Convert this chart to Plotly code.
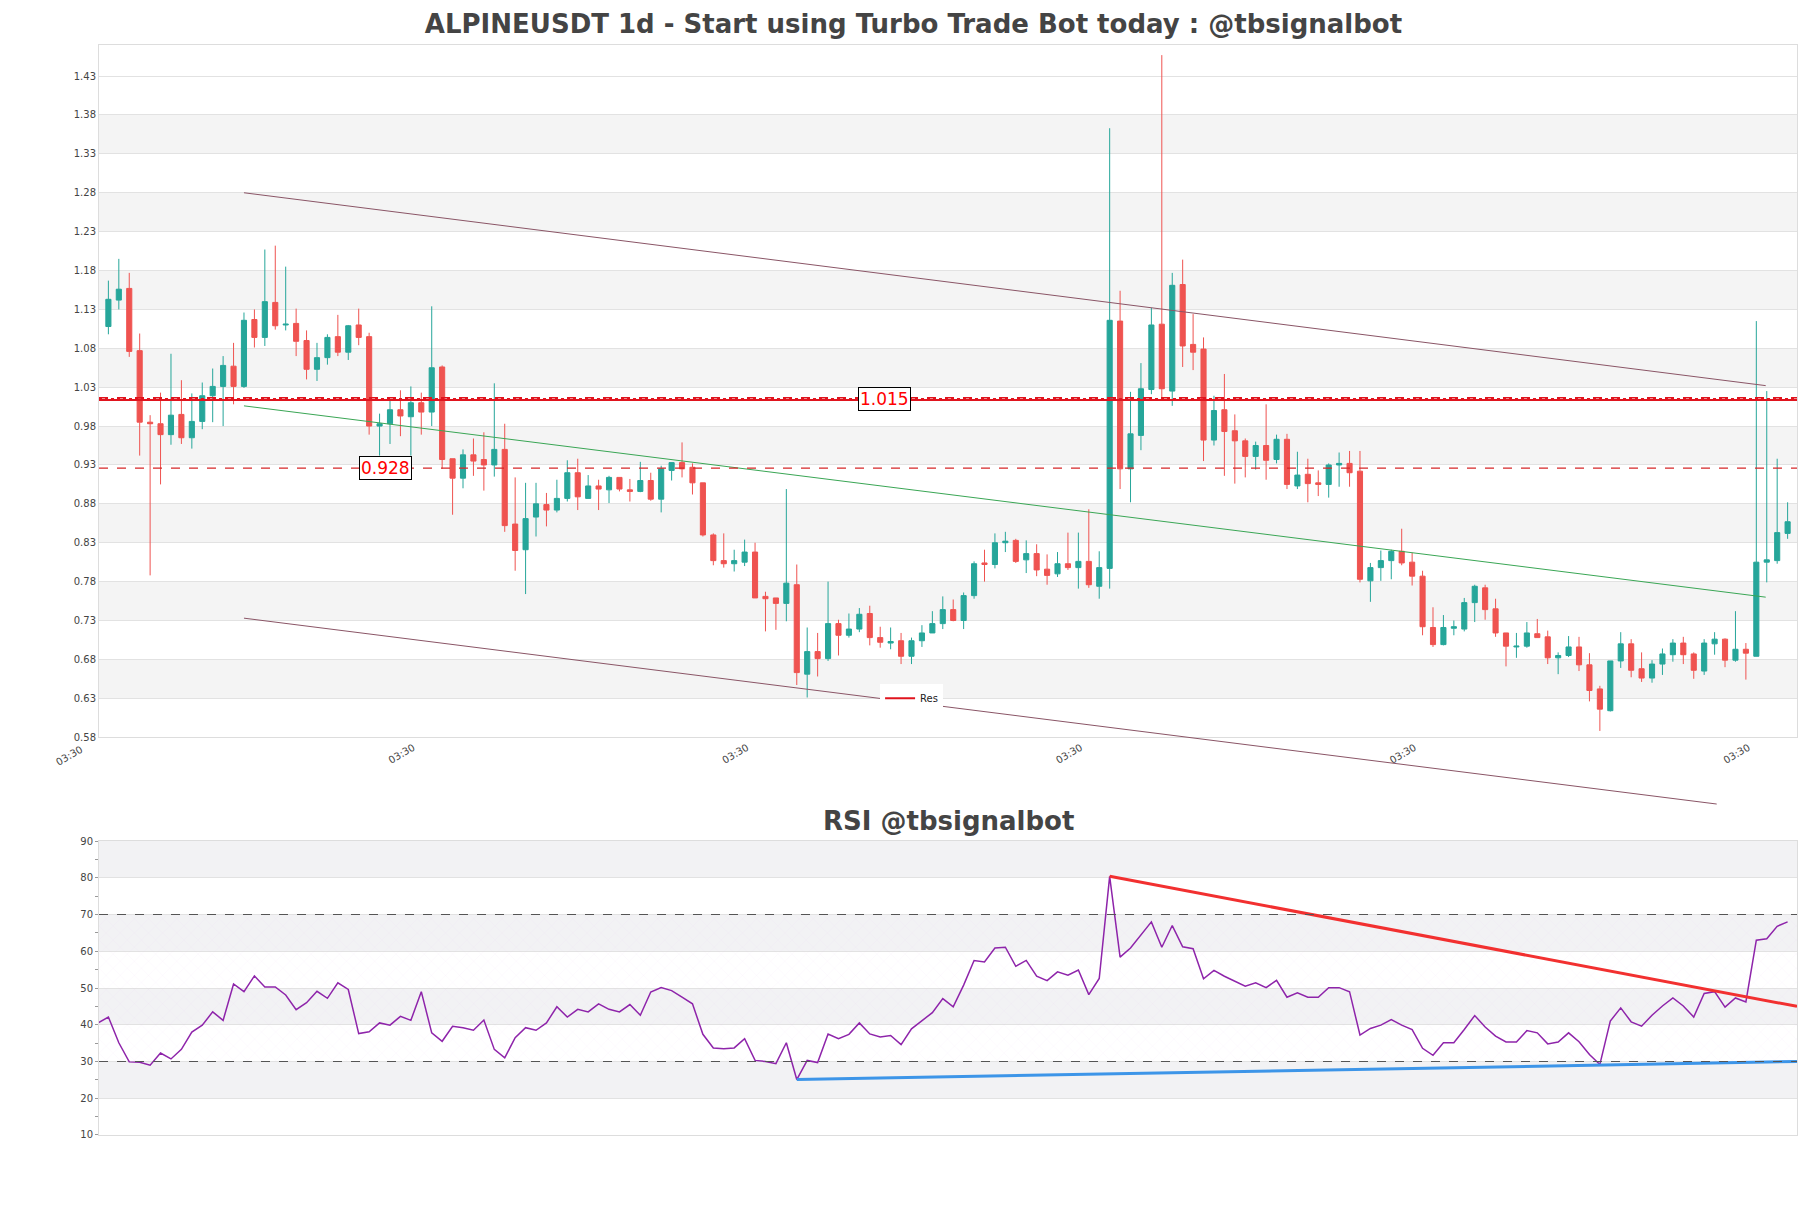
import plotly.graph_objects as go
from plotly.subplots import make_subplots

opens = [1.108,1.142,1.157,1.077,0.985,0.983,0.969,0.995,0.965,0.986,1.019,1.031,1.057,1.031,1.117,1.094,1.139,1.110,1.112,1.090,
1.053,1.068,1.095,1.075,1.110,1.095,0.980,0.983,1.001,0.992,1.010,0.998,1.056,0.938,0.913,0.943,0.937,0.930,0.950,0.854,
0.821,0.863,0.879,0.872,0.887,0.920,0.887,0.903,0.898,0.914,0.898,0.896,0.910,0.886,0.923,0.933,0.927,0.907,0.840,0.807,
0.803,0.805,0.818,0.761,0.759,0.752,0.776,0.661,0.690,0.681,0.726,0.711,0.719,0.739,0.708,0.701,0.704,0.684,0.704,0.714,
0.726,0.744,0.730,0.762,0.804,0.802,0.830,0.833,0.808,0.816,0.796,0.790,0.803,0.798,0.806,0.774,0.797,1.115,0.925,0.968,
1.027,1.111,1.025,1.162,1.085,1.079,0.962,1.001,0.974,0.961,0.941,0.955,0.937,0.963,0.903,0.918,0.907,0.905,0.930,0.932,
0.922,0.781,0.798,0.807,0.819,0.805,0.787,0.721,0.699,0.720,0.719,0.753,0.772,0.745,0.714,0.696,0.697,0.713,0.709,0.682,
0.685,0.696,0.673,0.642,0.614,0.678,0.700,0.668,0.656,0.674,0.686,0.701,0.687,0.665,0.700,0.706,0.679,0.693,0.684,0.805,
0.807,0.842]
highs = [1.167,1.195,1.177,1.099,0.994,1.023,1.073,1.039,1.022,1.036,1.054,1.070,1.087,1.126,1.130,1.207,1.212,1.185,1.131,1.103,
1.087,1.098,1.123,1.110,1.131,1.100,0.996,1.014,1.026,1.031,1.023,1.134,1.058,0.938,0.950,0.964,0.972,1.035,0.983,0.914,
0.907,0.907,0.894,0.911,0.936,0.938,0.917,0.911,0.916,0.914,0.912,0.934,0.920,0.929,0.933,0.959,0.932,0.907,0.842,0.842,
0.821,0.834,0.830,0.767,0.759,0.899,0.802,0.721,0.714,0.780,0.731,0.739,0.746,0.749,0.722,0.721,0.714,0.708,0.724,0.742,
0.761,0.757,0.766,0.806,0.821,0.842,0.844,0.835,0.833,0.828,0.815,0.818,0.843,0.843,0.873,0.819,1.363,1.154,1.024,1.061,
1.132,1.457,1.177,1.194,1.124,1.094,1.019,1.047,0.995,0.964,0.960,1.008,0.969,0.970,0.947,0.938,0.923,0.932,0.946,0.948,
0.948,0.804,0.820,0.821,0.848,0.817,0.794,0.747,0.737,0.730,0.759,0.776,0.776,0.758,0.714,0.714,0.728,0.732,0.717,0.689,
0.710,0.709,0.688,0.646,0.678,0.715,0.706,0.689,0.679,0.694,0.706,0.709,0.689,0.706,0.715,0.707,0.742,0.701,1.115,1.025,
0.938,0.882]
lows = [1.098,1.130,1.069,0.942,0.788,0.905,0.956,0.957,0.951,0.976,0.985,0.980,1.008,1.029,1.081,1.083,1.104,1.103,1.070,1.040,
1.038,1.059,1.070,1.065,1.084,0.969,0.942,0.957,0.967,0.942,0.969,0.980,0.925,0.866,0.900,0.916,0.897,0.915,0.844,0.794,
0.764,0.838,0.851,0.869,0.883,0.872,0.887,0.872,0.881,0.896,0.883,0.895,0.884,0.869,0.910,0.914,0.892,0.838,0.801,0.798,
0.793,0.800,0.759,0.716,0.718,0.729,0.647,0.631,0.658,0.678,0.685,0.708,0.715,0.698,0.695,0.693,0.674,0.674,0.696,0.714,
0.719,0.729,0.719,0.758,0.780,0.797,0.818,0.804,0.791,0.787,0.776,0.786,0.795,0.771,0.772,0.758,0.771,0.899,0.882,0.949,
1.021,1.016,1.006,1.056,1.052,0.935,0.955,0.916,0.906,0.914,0.924,0.911,0.932,0.899,0.899,0.882,0.890,0.888,0.902,0.902,
0.779,0.754,0.781,0.783,0.801,0.775,0.711,0.696,0.698,0.711,0.716,0.728,0.731,0.709,0.671,0.682,0.695,0.708,0.674,0.661,
0.683,0.665,0.626,0.588,0.613,0.669,0.657,0.651,0.650,0.660,0.677,0.674,0.655,0.660,0.686,0.670,0.677,0.654,0.684,0.779,
0.803,0.835]
closes = [1.143,1.156,1.076,0.985,0.983,0.969,0.994,0.965,0.986,1.019,1.031,1.058,1.031,1.116,1.094,1.140,1.109,1.111,1.089,1.053,
1.068,1.094,1.075,1.109,1.094,0.980,0.983,1.001,0.993,1.010,0.998,1.055,0.937,0.913,0.943,0.935,0.930,0.950,0.852,0.820,
0.861,0.880,0.872,0.887,0.920,0.889,0.903,0.899,0.914,0.899,0.896,0.910,0.886,0.925,0.933,0.925,0.907,0.840,0.807,0.803,
0.807,0.818,0.759,0.758,0.752,0.778,0.663,0.690,0.681,0.726,0.711,0.719,0.738,0.708,0.702,0.703,0.684,0.704,0.714,0.726,
0.744,0.730,0.762,0.803,0.802,0.830,0.832,0.806,0.816,0.795,0.788,0.803,0.798,0.806,0.776,0.798,1.116,0.925,0.970,1.028,
1.110,1.028,1.161,1.083,1.075,0.962,1.000,0.973,0.961,0.941,0.955,0.936,0.963,0.905,0.917,0.906,0.905,0.930,0.932,0.920,
0.783,0.798,0.807,0.819,0.804,0.787,0.722,0.699,0.721,0.722,0.753,0.774,0.744,0.714,0.697,0.697,0.714,0.708,0.682,0.685,
0.696,0.673,0.640,0.616,0.678,0.700,0.666,0.656,0.674,0.687,0.701,0.686,0.666,0.701,0.706,0.679,0.693,0.688,0.805,0.808,
0.843,0.857]

rsi = [40.5,42.1,35.1,29.9,29.8,29.0,32.3,30.7,33.3,38.0,39.9,43.5,41.2,51.1,49.0,53.3,50.3,50.3,48.1,44.1,46.0,
49.1,47.2,51.4,49.6,37.6,38.1,40.5,39.9,42.3,41.2,49.0,37.8,35.5,39.6,39.2,38.5,41.3,33.3,31.0,36.5,
39.2,38.5,40.5,44.9,42.1,44.2,43.5,45.7,44.2,43.5,45.5,42.6,48.9,50.1,49.3,47.5,45.7,37.4,33.7,33.5,
33.7,36.2,30.3,30.0,29.4,35.1,25.1,30.3,29.7,37.5,36.2,37.4,40.5,37.5,36.7,37.1,34.6,38.9,41.0,43.3,
47.1,44.9,50.8,57.5,57.1,60.9,61.1,55.9,57.5,53.2,52.0,54.4,53.5,54.9,48.2,52.6,80.4,58.4,60.9,64.4,
68.0,61.1,67.0,61.2,60.7,52.5,54.8,53.2,51.9,50.5,51.4,50.1,52.1,47.5,48.7,47.5,47.5,50.1,50.1,49.0,
37.2,39.0,39.9,41.4,39.9,38.7,33.6,31.7,35.1,35.1,38.7,42.5,39.4,36.9,35.3,35.3,38.4,37.8,34.8,35.3,
37.8,35.4,31.9,29.2,41.0,44.6,40.8,39.6,42.6,45.1,47.3,45.1,42.1,48.5,49.0,44.8,47.3,46.2,63.0,63.4,
66.8,68.0]

x_idx = list(range(len(opens)))
rsi_x = list(range(-1, len(opens)))
tick_vals = [-2.76, 29.24, 61.24, 93.24, 125.24, 157.24]
tick_text = ["03:30"] * 6
price_ticks = [0.58,0.63,0.68,0.73,0.78,0.83,0.88,0.93,0.98,1.03,1.08,1.13,1.18,1.23,1.28,1.33,1.38,1.43]
rsi_ticks = [10,20,30,40,50,60,70,80,90]

upper_line = ([13, 158.9], [1.28, 1.032])
mid_line = ([13, 158.9], [1.006, 0.760])
lower_line = ([13, 154.2], [0.733, 0.494])
res_levels = [1.015, 0.926]
rsi_red = ([96, 161.9], [80.4, 45.0])
rsi_blue = ([66, 161.9], [25.1, 30.0])

XR = [-0.9, 161.9]
YR = [0.58, 1.47]
W, H = 1811, 1208
ML, MR, MT, MB = 91, 22, 37, 81
main_dom = [0.365, 1.0]
rsi_dom = [0.0, 0.2697]

fig = make_subplots(rows=2, cols=1, shared_xaxes=False)
fig.add_trace(go.Candlestick(x=x_idx, open=opens, high=highs, low=lows, close=closes,
    increasing=dict(line=dict(color="#26a69a", width=1), fillcolor="#26a69a"),
    decreasing=dict(line=dict(color="#ef5350", width=1), fillcolor="#ef5350"),
    whiskerwidth=0, showlegend=False), row=1, col=1)

chan = "#8a5566"
fig.add_trace(go.Scatter(x=upper_line[0], y=upper_line[1], mode="lines", line=dict(color=chan, width=1), showlegend=False), row=1, col=1)
fig.add_trace(go.Scatter(x=mid_line[0], y=mid_line[1], mode="lines", line=dict(color="#3aa655", width=1), showlegend=False), row=1, col=1)

fig.add_trace(go.Scatter(x=XR, y=[res_levels[0]-0.0015]*2, mode="lines", line=dict(color="#e0141e", width=2), name="Res", showlegend=True), row=1, col=1)
fig.add_trace(go.Scatter(x=XR, y=[res_levels[0]+0.0015]*2, mode="lines", line=dict(color="#e0141e", width=1.5, dash="dash"), showlegend=False), row=1, col=1)
fig.add_trace(go.Scatter(x=XR, y=[res_levels[0]]*2, mode="lines", line=dict(color="#e0141e", width=1.5, dash="dot"), showlegend=False), row=1, col=1)
fig.add_trace(go.Scatter(x=XR, y=[res_levels[1]]*2, mode="lines", line=dict(color="#d62728", width=1.2, dash="dash"), showlegend=False), row=1, col=1)

fig.add_trace(go.Scatter(x=XR, y=[30, 30], mode="lines", line=dict(width=0), showlegend=False, hoverinfo="skip"), row=2, col=1)
fig.add_trace(go.Scatter(x=XR, y=[70, 70], mode="lines", line=dict(width=0), fill="tonexty",
    fillcolor="rgba(0,0,0,0)", fillpattern=dict(shape="x", fgcolor="rgba(200,150,220,0.35)", bgcolor="rgba(0,0,0,0)", size=10, solidity=0.05),
    showlegend=False, hoverinfo="skip"), row=2, col=1)
fig.add_trace(go.Scatter(x=rsi_x, y=rsi, mode="lines", line=dict(color="#8e24aa", width=1.5), showlegend=False), row=2, col=1)
fig.add_trace(go.Scatter(x=rsi_red[0], y=rsi_red[1], mode="lines", line=dict(color="#f23030", width=3), showlegend=False), row=2, col=1)
fig.add_trace(go.Scatter(x=rsi_blue[0], y=rsi_blue[1], mode="lines", line=dict(color="#3d95e8", width=3), showlegend=False), row=2, col=1)
for lv in (70, 30):
    fig.add_trace(go.Scatter(x=XR, y=[lv, lv], mode="lines", line=dict(color="#555", width=1.2, dash="dash"), showlegend=False), row=2, col=1)

shapes = []
for i in range(1, len(price_ticks) - 1, 2):
    shapes.append(dict(type="rect", xref="x domain", yref="y", x0=0, x1=1, y0=price_ticks[i], y1=price_ticks[i+1],
                       fillcolor="#f4f4f4", line=dict(width=0), layer="below"))
for lo in (20, 40, 60, 80):
    shapes.append(dict(type="rect", xref="x2 domain", yref="y2", x0=0, x1=1, y0=lo, y1=lo+10,
                       fillcolor="#f2f2f4", line=dict(width=0), layer="below"))

def to_paper_x(v):
    return (v - XR[0]) / (XR[1] - XR[0])

def to_paper_y(v):
    return main_dom[0] + (v - YR[0]) / (YR[1] - YR[0]) * (main_dom[1] - main_dom[0])

shapes.append(dict(type="line", xref="paper", yref="paper",
                   x0=to_paper_x(lower_line[0][0]), y0=to_paper_y(lower_line[1][0]),
                   x1=to_paper_x(lower_line[0][1]), y1=to_paper_y(lower_line[1][1]),
                   line=dict(color=chan, width=1)))

annotations = [
    dict(x=74.4, y=res_levels[0], xref="x", yref="y", text="1.015", showarrow=False,
         font=dict(color="red", size=17, family="DejaVu Sans"), bgcolor="white", bordercolor="black", borderwidth=1, borderpad=1),
    dict(x=26.6, y=res_levels[1], xref="x", yref="y", text="0.928", showarrow=False,
         font=dict(color="red", size=17, family="DejaVu Sans"), bgcolor="white", bordercolor="black", borderwidth=1, borderpad=1),
    dict(x=0.5, y=0.288, xref="paper", yref="paper", text="<b>RSI @tbsignalbot</b>", showarrow=False,
         font=dict(size=26, color="#444", family="DejaVu Sans"), yanchor="middle"),
    dict(x=to_paper_x(tick_vals[0]), y=main_dom[0], xref="paper", yref="paper", text=tick_text[0], showarrow=False, textangle=-30,
         xanchor="center", yanchor="top", yshift=-4, xshift=-10, font=dict(size=10, color="#444", family="DejaVu Sans")),
]

fig.update_layout(
    width=W, height=H, margin=dict(l=ML, r=MR, t=MT, b=MB),
    paper_bgcolor="white", plot_bgcolor="white",
    title=dict(text="<b>ALPINEUSDT 1d - Start using Turbo Trade Bot today : @tbsignalbot</b>", x=0.5, xanchor="center",
               y=0.987, yanchor="middle", font=dict(size=26, color="#444", family="DejaVu Sans")),
    shapes=shapes, annotations=annotations,
    legend=dict(x=0.46, y=0.414, xanchor="left", yanchor="top", bgcolor="white", font=dict(size=10, color="#222")),
    font=dict(family="DejaVu Sans", color="#444"),
)
fig.update_xaxes(range=XR, showgrid=False, rangeslider_visible=False, showline=True, linecolor="#ddd", mirror=True, zeroline=False)
fig.update_xaxes(tickvals=tick_vals, ticktext=tick_text, tickangle=-30, tickfont=dict(size=10), domain=[0, 1], row=1, col=1)
fig.update_xaxes(showticklabels=False, row=2, col=1)
fig.update_yaxes(range=YR, tickvals=price_ticks, ticktext=[f"{t:.2f}" for t in price_ticks], tickfont=dict(size=10),
                 gridcolor="#e2e2e2", showline=True, linecolor="#ddd", mirror=True, zeroline=False, domain=main_dom, row=1, col=1)
fig.update_yaxes(range=[10, 90], tickvals=rsi_ticks, tickfont=dict(size=10), gridcolor="#e2e2e2", showline=True, linecolor="#ddd",
                 mirror=True, zeroline=False, domain=rsi_dom, ticks="outside", ticklen=3, tickcolor="#999",
                 minor=dict(dtick=5, ticks="outside", ticklen=3, tickcolor="#999", showgrid=False), row=2, col=1)
fig.write_html("out.html")
